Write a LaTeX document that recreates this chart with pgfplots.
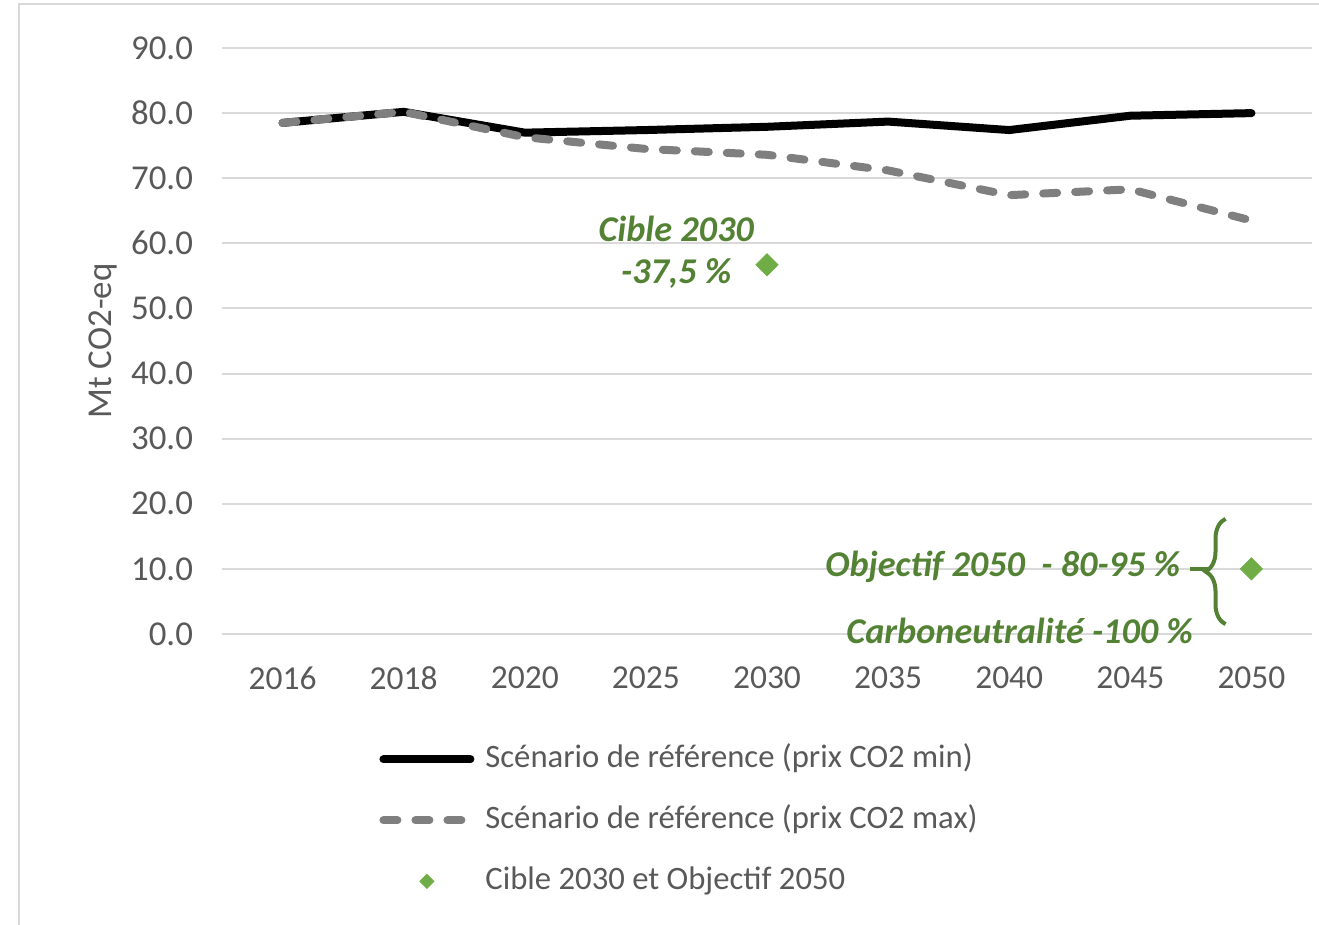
\documentclass[border=0pt]{standalone}
\usepackage{fontspec}
\setmainfont{Carlito}
\usepackage{pgfplots}
\pgfplotsset{compat=1.18}
\usetikzlibrary{decorations.pathreplacing}
\definecolor{txtgray}{HTML}{595959}
\definecolor{gridgray}{HTML}{D9D9D9}
\definecolor{dashgray}{HTML}{7F7F7F}
\definecolor{darkgreen}{HTML}{548235}
\definecolor{markgreen}{HTML}{70AD47}
\pgfplotsset{dlegend/.style={legend image code/.code={\path (0bp,0bp) (47.5bp,0bp); \draw[##1, mark size=2.5bp] plot coordinates {(23.75bp,0bp)};}}}

\begin{document}
\begin{tikzpicture}
\path[use as bounding box] (-111bp,-145.5bp) rectangle (548.5bp,317bp);
\draw[gridgray, line width=1bp] (-101.5bp,-145.5bp) -- (-101.5bp,315bp) -- (548.5bp,315bp);
\begin{axis}[
    at={(0,0)}, anchor=south west,
    scale only axis, width=545bp, height=293bp,
    xmin=-0.5, xmax=8.5, ymin=0, ymax=90,
    xtick={0,...,8},
    xticklabels={2016,2018,2020,2025,2030,2035,2040,2045,2050},
    ytick={0,10,...,90},
    axis line style={draw=none},
    major tick length=0pt,
    ymajorgrids,
    grid style={gridgray, line width=1bp},
    tick label style={font=\fontsize{16.8}{19}\selectfont, text=txtgray},
    /pgf/number format/assume math mode=true,
    y tick label style={/pgf/number format/fixed, /pgf/number format/fixed zerofill, /pgf/number format/precision=1, xshift=-11bp, font=\fontsize{17.5}{20}\selectfont},
    x tick label style={yshift=-13bp},
    ylabel={Mt CO2-eq},
    ylabel style={at={(axis description cs:-0.109,0.5)}, anchor=center, font=\fontsize{17.5}{20}\selectfont, text=txtgray},
    clip=false,
    legend style={draw=none, fill=none, at={(axis description cs:0.1404,-0.318)}, anchor=west,
        inner sep=0pt, row sep=10.5bp, column sep=3.5bp, font=\fontsize{16.4}{19}\selectfont, text=txtgray,
        cells={anchor=west}, nodes={inner xsep=0pt, inner ysep=2bp, text height=12bp, text depth=4bp}},
    legend image code/.code={\path (0bp,0bp) (47.5bp,0bp); \draw[#1] (2bp,0bp) -- (45.5bp,0bp);},
]
\addplot[black, line width=4bp, line cap=round, line join=round] coordinates {
    (0,78.5) (1,80.2) (2,77.0) (3,77.4) (4,77.9) (5,78.7) (6,77.4) (7,79.6) (8,80.0)
};
\addlegendentry{Scénario de référence (prix CO2 min)}
\addplot[dashgray, line width=4bp, line cap=round, line join=round, dash pattern=on 7bp off 9bp] coordinates {
    (0,78.5) (1,80.2) (2,76.3) (3,74.5) (4,73.6) (5,71.2) (6,67.4) (7,68.3) (8,63.5)
};
\addlegendentry{Scénario de référence (prix CO2 max)}
\addplot[only marks, mark=square*, mark options={rotate=45}, mark size=3.9bp, markgreen, dlegend]
    coordinates {(4,56.7) (8,10.0)};
\addlegendentry{Cible 2030 et Objectif 2050}

\node[inner sep=0pt, font=\fontsize{18.2}{21}\selectfont\bfseries\itshape, text=darkgreen] at (axis cs:3.25,62.2) {Cible 2030};
\node[inner sep=0pt, font=\fontsize{18.2}{21}\selectfont\bfseries\itshape, text=darkgreen] at (axis cs:3.25,55.4) {-37,5 \%};
\node[inner sep=0pt, font=\fontsize{18.2}{21}\selectfont\bfseries\itshape, text=darkgreen, anchor=east] at (axis cs:7.414,10.3) {Objectif 2050\ \ - 80-95 \%};
\node[inner sep=0pt, font=\fontsize{18.2}{21}\selectfont\bfseries\itshape, text=darkgreen, anchor=east] at (axis cs:7.52,0.46) {Carboneutralité -100 \%};
\draw[darkgreen, line width=2bp, decorate, decoration={brace, amplitude=10bp}] (axis cs:7.786,1.5) -- (axis cs:7.786,17.7);
\draw[darkgreen, line width=2bp] (axis cs:7.49,10) -- (axis cs:7.66,10);
\end{axis}
\end{tikzpicture}
\end{document}
